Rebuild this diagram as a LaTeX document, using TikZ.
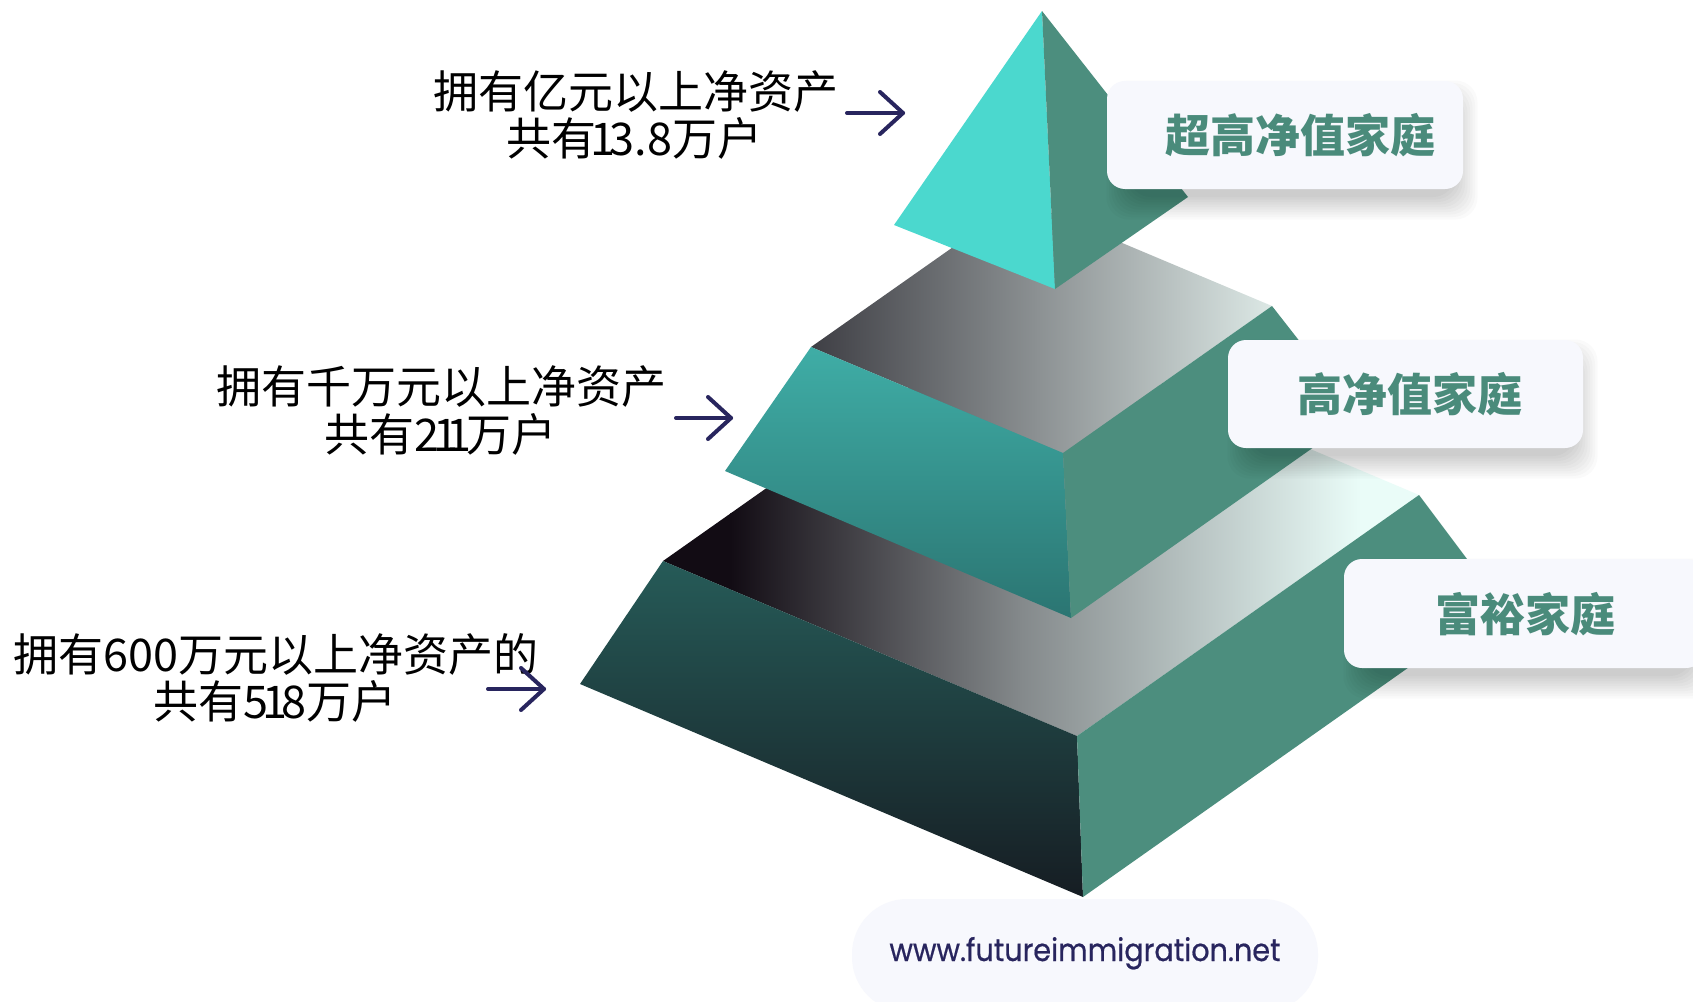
\documentclass[tikz,border=0pt]{standalone}
\usepackage{fontspec}
\usepackage{graphicx}
\newfontfamily\cjk{Noto Sans CJK SC}
\newfontfamily\webfont[FakeBold=0.6]{Poppins}
\newcommand\narrowone{\makebox[0.3em][c]{1}}
\definecolor{faceR}{HTML}{4C8E7E}
\definecolor{pyrL}{HTML}{4BD8CE}
\definecolor{boxbg}{HTML}{F7F8FD}
\definecolor{labc}{HTML}{4A8B7B}
\definecolor{navyc}{HTML}{28255E}
\definecolor{bA}{HTML}{120C14}
\definecolor{bB}{HTML}{84898B}
\definecolor{bC}{HTML}{EAFCF8}
\definecolor{mA}{HTML}{3B3B41}
\definecolor{mB}{HTML}{8B9092}
\definecolor{mC}{HTML}{DDE9E6}
\definecolor{mlT}{HTML}{3FADA6}
\definecolor{mlB}{HTML}{2B7572}
\definecolor{blT}{HTML}{265B58}
\definecolor{blB}{HTML}{161D23}
\newcommand\myboxshadow[4]{%
  \foreach \k in {0,...,9}{%
    \fill[black,opacity=0.018,rounded corners=22]
      (#1+22-\k*2.5,#2+22-\k*2.5) rectangle (#3-8+\k*2.5,#4+8+\k*2.5);}}
\tikzset{
  lt/.style={font=\cjk\fontsize{45}{50}\selectfont, text=black, inner sep=0, anchor=base},
  lab/.style={font=\cjk\bfseries\fontsize{45}{50}\selectfont, text=labc, inner sep=0, anchor=base},
  labbox/.style={fill=boxbg, rounded corners=18, inner sep=0},
  arr/.style={draw=navyc, line width=4, line cap=round, line join=round},
}
\begin{document}
\begin{tikzpicture}[x=1pt,y=-1pt]
\useasboundingbox (0,0) rectangle (1693,1001);
\fill[white] (0,0) rectangle (1693,1001);

% ---------- bottom frustum ----------
\coordinate (Btl) at (663,561);
\coordinate (Btf) at (1077,736);
\coordinate (Btr) at (1419,495);
\coordinate (Btb) at (1005,320);
\coordinate (Bbl) at (580,684);
\coordinate (Bbf) at (1083,897);
\coordinate (Bbr) at (1500,603);
\begin{scope}
  \clip (Btl) -- (Btf) -- (Btr) -- (Btb) -- cycle;
  \fill[bA] (600,300) rectangle (731,760);
  \shade[left color=bA, right color=bB] (730,300) rectangle (1021,760);
  \shade[left color=bB, right color=bC] (1020,300) rectangle (1361,760);
  \fill[bC] (1360,300) rectangle (1440,760);
\end{scope}
\shade[top color=blT, bottom color=blB] (Btl) -- (Btf) -- (Bbf) -- (Bbl) -- cycle;
\fill[faceR] (Btf) -- (Btr) -- (Bbr) -- (Bbf) -- cycle;

% ---------- middle frustum ----------
\coordinate (Mtl) at (811,347);
\coordinate (Mtf) at (1063,453);
\coordinate (Mtr) at (1272,306);
\coordinate (Mtb) at (1020,200);
\coordinate (Mbl) at (725,471);
\coordinate (Mbf) at (1071,618);
\coordinate (Mbr) at (1358,416);
\begin{scope}
  \clip (Mtl) -- (Mtf) -- (Mtr) -- (Mtb) -- cycle;
  \shade[left color=mA, right color=mB] (800,190) rectangle (1036,460);
  \shade[left color=mB, right color=mC] (1035,190) rectangle (1275,460);
\end{scope}
\shade[top color=mlT, bottom color=mlB] (Mtl) -- (Mtf) -- (Mbf) -- (Mbl) -- cycle;
\fill[faceR] (Mtf) -- (Mtr) -- (Mbr) -- (Mbf) -- cycle;

% ---------- top pyramid ----------
\coordinate (Pa) at (1042,11);
\coordinate (Pl) at (894,225);
\coordinate (Pf) at (1055,289);
\coordinate (Pr) at (1188,197);
\fill[pyrL] (Pa) -- (Pl) -- (Pf) -- cycle;
\fill[faceR] (Pa) -- (Pf) -- (Pr) -- cycle;

% ---------- label boxes ----------
\myboxshadow{1107}{81}{1463}{189}
\myboxshadow{1228}{340}{1583}{448}
\myboxshadow{1344}{559}{1700}{668}
\node[labbox, minimum width=356, minimum height=108] (box1) at (1285,135) {};
\node[labbox, minimum width=355, minimum height=108] (box2) at (1405.5,394) {};
\node[labbox, minimum width=360, minimum height=109] (box3) at (1524,613.5) {};
\node[lab] (lab1) at (1300,152) {超高净值家庭};
\node[lab] (lab2) at (1410,411) {高净值家庭};
\node[lab] (lab3) at (1525,631) {富裕家庭};

% ---------- left texts ----------
\node[lt] (t1a) at (636,108) {拥有亿元以上净资产};
\node[lt] (t1b) at (634,155) {共有{\narrowone}3.8万户};
\node[lt] (t2a) at (441,403) {拥有千万元以上净资产};
\node[lt] (t2b) at (440,451) {共有2{\narrowone}{\narrowone}万户};
\node[lt] (t3a) at (276,671) {拥有600万元以上净资产的};
\node[lt] (t3b) at (275,718) {共有5{\narrowone}8万户};

% ---------- arrows ----------
\coordinate (a1s) at (847,113); \coordinate (a1e) at (903,113);
\coordinate (a2s) at (676,418); \coordinate (a2e) at (731,418);
\coordinate (a3s) at (488,689); \coordinate (a3e) at (544,689);
\foreach \s/\e in {a1s/a1e, a2s/a2e, a3s/a3e}{
  \draw[arr] (\s) -- (\e);
  \draw[arr] (\e) ++(-23,-21) -- (\e) -- ++(-23,21);
}

% ---------- website pill ----------
\node[fill=boxbg, rounded corners=55, minimum width=466, minimum height=113, inner sep=0] (web) at (1085,955.5) {};
\node[inner sep=0, anchor=base, text=navyc] (webt) at (1085,961) {\resizebox{391pt}{24pt}{\webfont www.futureimmigration.net}};
\end{tikzpicture}
\end{document}
